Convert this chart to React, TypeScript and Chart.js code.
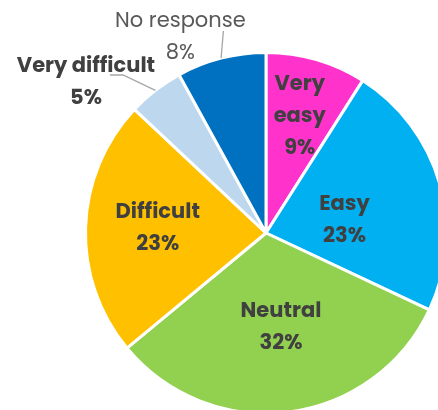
import React, { useEffect, useRef } from "react";
import { Chart, registerables } from "chart.js";

Chart.register(...registerables);

const categories = ["Very easy", "Easy", "Neutral", "Difficult", "Very difficult", "No response"];
const values = [9, 23, 32, 23, 5, 8];
const percentLabels = ["9%", "23%", "32%", "23%", "5%", "8%"];
const colors = ["#FF33CC", "#00B0F0", "#92D050", "#FFC000", "#BDD7EE", "#0070C0"];

// label layout: radius fraction, angular shift (deg), outside leader line
const labelLayout = [
  { frac: 0.67, shift: 0, lines: ["Very", "easy"], bold: true, leader: null },
  { frac: 0.44, shift: 7.5, lines: null, bold: true, leader: null },
  { frac: 0.53, shift: -1.8, lines: null, bold: true, leader: null },
  { frac: 0.6, shift: 0.3, lines: null, bold: true, leader: null },
  { frac: 1.3, shift: -12.3, lines: null, bold: true, leader: { dx: 24, dy: -7.5, knee: 13 } },
  { frac: 1.18, shift: -9.3, lines: null, bold: false, leader: { dx: 43, dy: -7, knee: 0 } },
];

const FONT = "Poppins, 'Open Sans', sans-serif";
const CW = 470;
const CH = 430;

const labelPlugin = {
  id: "sliceLabels",
  afterDatasetsDraw(chart: any) {
    const ctx = chart.ctx;
    const meta = chart.getDatasetMeta(0);
    ctx.save();
    meta.data.forEach((arc: any, i: number) => {
      const { x, y, startAngle, endAngle, outerRadius } = arc.getProps(
        ["x", "y", "startAngle", "endAngle", "outerRadius"],
        true
      );
      const cfg = labelLayout[i];
      const mid = (startAngle + endAngle) / 2;
      const a = mid + (cfg.shift * Math.PI) / 180;
      const lx = x + Math.cos(a) * outerRadius * cfg.frac;
      const ly = y + Math.sin(a) * outerRadius * cfg.frac;
      const lines = [...(cfg.lines || [categories[i]]), percentLabels[i]];
      const lh = 32;
      ctx.font = `${cfg.bold ? "700" : "400"} 21px ${FONT}`;
      ctx.fillStyle = cfg.bold ? "#404040" : "#595959";
      ctx.textAlign = "center";
      ctx.textBaseline = "middle";
      lines.forEach((t, k) => {
        ctx.fillText(t, lx, ly + (k - (lines.length - 1) / 2) * lh);
      });
      if (cfg.leader) {
        const ex = x + Math.cos(mid) * outerRadius;
        const ey = y + Math.sin(mid) * outerRadius;
        const sx = lx + cfg.leader.dx;
        const sy = ly + cfg.leader.dy;
        ctx.beginPath();
        ctx.strokeStyle = "#A6A6A6";
        ctx.lineWidth = 1.3;
        ctx.moveTo(sx, sy);
        if (cfg.leader.knee) ctx.lineTo(sx + cfg.leader.knee, sy);
        ctx.lineTo(ex, ey);
        ctx.stroke();
      }
    });
    ctx.restore();
  },
};

export default function App() {
  const ref = useRef<HTMLCanvasElement | null>(null);
  useEffect(() => {
    if (!ref.current) return;
    const chart = new Chart(ref.current, {
      type: "pie",
      data: {
        labels: categories,
        datasets: [
          {
            data: values,
            backgroundColor: colors,
            borderColor: "#FFFFFF",
            borderWidth: 3,
          },
        ],
      },
      options: {
        animation: false,
        responsive: false,
        layout: { padding: { left: 84, top: 51, right: CW - 84 - 364, bottom: CH - 51 - 364 } },
        plugins: { legend: { display: false }, tooltip: { enabled: false } },
      },
      plugins: [labelPlugin],
    });
    return () => chart.destroy();
  }, []);
  return (
    <div style={{ position: "fixed", left: 0, top: 0, width: 438, height: 410, overflow: "hidden", background: "#fff" }}>
      <canvas ref={ref} width={CW} height={CH} style={{ display: "block", width: CW, height: CH }} />
    </div>
  );
}
